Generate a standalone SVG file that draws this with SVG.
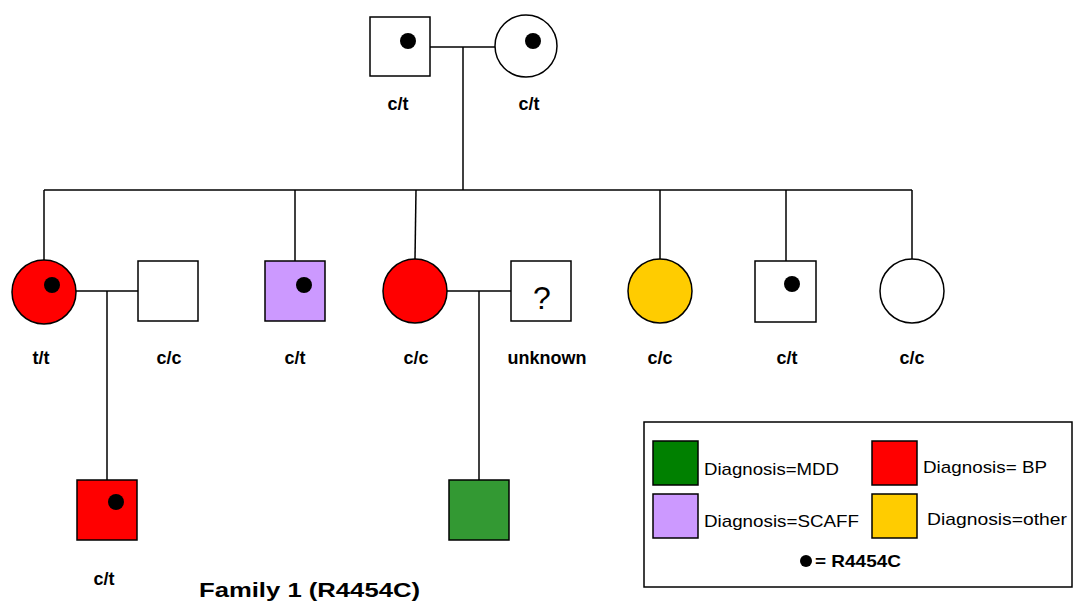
<svg xmlns="http://www.w3.org/2000/svg" width="1075" height="604" viewBox="0 0 1075 604">
  <style>
    .ln { stroke: #000; stroke-width: 1.5; fill: none; }
    .sym { stroke: #000; stroke-width: 1.5; }
    .lbl { font-family: "Liberation Sans", Arial, sans-serif; font-size: 18px; font-weight: bold; text-anchor: middle; fill: #000; }
    .leg { font-family: "Liberation Sans", Arial, sans-serif; font-size: 17px; fill: #000; }
    .dot { fill: #000; }
  </style>
  <rect width="1075" height="604" fill="#fff"/>

  <!-- connectors -->
  <g id="connectors">
    <line class="ln" x1="430" y1="47" x2="495" y2="47"/>
    <line class="ln" x1="463" y1="47" x2="463" y2="190"/>
    <line class="ln" x1="44" y1="190" x2="912" y2="190"/>
    <line class="ln" x1="44" y1="190" x2="44" y2="260"/>
    <line class="ln" x1="295" y1="190" x2="295" y2="261"/>
    <line class="ln" x1="416" y1="190" x2="415" y2="259"/>
    <line class="ln" x1="660" y1="190" x2="660" y2="259"/>
    <line class="ln" x1="786" y1="190" x2="786" y2="261"/>
    <line class="ln" x1="912" y1="190" x2="912" y2="259"/>
    <line class="ln" x1="76" y1="291" x2="138" y2="291"/>
    <line class="ln" x1="107" y1="291" x2="107" y2="480"/>
    <line class="ln" x1="447" y1="291" x2="511" y2="291"/>
    <line class="ln" x1="479" y1="291" x2="479" y2="480"/>
  </g>

  <!-- generation I -->
  <g id="father">
    <rect class="sym" x="370" y="17" width="60" height="59" fill="#fff"/>
    <circle class="dot" cx="408" cy="41" r="8"/>
    <text class="lbl" x="398" y="110">c/t</text>
  </g>
  <g id="mother">
    <circle class="sym" cx="526" cy="46" r="31" fill="#fff"/>
    <circle class="dot" cx="533" cy="41" r="8"/>
    <text class="lbl" x="529" y="110">c/t</text>
  </g>

  <!-- generation II -->
  <g id="daughter1">
    <circle class="sym" cx="44" cy="292" r="32" fill="#ff0000"/>
    <circle class="dot" cx="52" cy="285" r="8"/>
    <text class="lbl" x="41" y="364">t/t</text>
  </g>
  <g id="spouse1">
    <rect class="sym" x="138" y="261" width="60" height="60" fill="#fff"/>
    <text class="lbl" x="169" y="364">c/c</text>
  </g>
  <g id="son1">
    <rect class="sym" x="265" y="261" width="60" height="60" fill="#cc99ff"/>
    <circle class="dot" cx="304" cy="285" r="8"/>
    <text class="lbl" x="295" y="364">c/t</text>
  </g>
  <g id="daughter2">
    <circle class="sym" cx="415" cy="291" r="32" fill="#ff0000"/>
    <text class="lbl" x="416" y="364">c/c</text>
  </g>
  <g id="spouse2">
    <rect class="sym" x="511" y="261" width="60" height="60" fill="#fff"/>
    <text x="542" y="309" font-family="Liberation Sans, Arial, sans-serif" font-size="32" text-anchor="middle">?</text>
    <text class="lbl" x="547" y="364">unknown</text>
  </g>
  <g id="daughter3">
    <circle class="sym" cx="660" cy="291" r="32" fill="#ffcc00"/>
    <text class="lbl" x="660" y="364">c/c</text>
  </g>
  <g id="son2">
    <rect class="sym" x="755" y="261" width="61" height="61" fill="#fff"/>
    <circle class="dot" cx="792" cy="284" r="8"/>
    <text class="lbl" x="787" y="364">c/t</text>
  </g>
  <g id="daughter4">
    <circle class="sym" cx="912" cy="291" r="32" fill="#fff"/>
    <text class="lbl" x="912" y="364">c/c</text>
  </g>

  <!-- generation III -->
  <g id="grandson1">
    <rect class="sym" x="77" y="480" width="60" height="60" fill="#ff0000"/>
    <circle class="dot" cx="116" cy="502" r="8"/>
    <text class="lbl" x="104" y="585">c/t</text>
  </g>
  <g id="grandson2">
    <rect class="sym" x="449" y="480" width="60" height="60" fill="#339933"/>
  </g>

  <!-- title -->
  <text x="199" y="597" font-family="Liberation Sans, Arial, sans-serif" font-size="21" font-weight="bold" textLength="221" lengthAdjust="spacingAndGlyphs">Family 1 (R4454C)</text>

  <!-- legend -->
  <g id="legend">
    <rect x="644" y="422" width="428" height="165" fill="#fff" stroke="#000" stroke-width="1.5"/>
    <rect class="sym" x="653" y="441" width="45" height="44" fill="#008000"/>
    <text class="leg" x="704" y="475" textLength="135" lengthAdjust="spacingAndGlyphs">Diagnosis=MDD</text>
    <rect class="sym" x="872" y="441" width="45" height="44" fill="#ff0000"/>
    <text class="leg" x="923" y="473" textLength="124" lengthAdjust="spacingAndGlyphs">Diagnosis= BP</text>
    <rect class="sym" x="653" y="494" width="45" height="44" fill="#cc99ff"/>
    <text class="leg" x="704" y="527" textLength="155" lengthAdjust="spacingAndGlyphs">Diagnosis=SCAFF</text>
    <rect class="sym" x="872" y="494" width="45" height="44" fill="#ffcc00"/>
    <text class="leg" x="927" y="525" textLength="140" lengthAdjust="spacingAndGlyphs">Diagnosis=other</text>
    <circle class="dot" cx="806" cy="561" r="6"/>
    <text x="815" y="567" font-family="Liberation Sans, Arial, sans-serif" font-size="17" font-weight="bold" textLength="86" lengthAdjust="spacingAndGlyphs">= R4454C</text>
  </g>
</svg>
